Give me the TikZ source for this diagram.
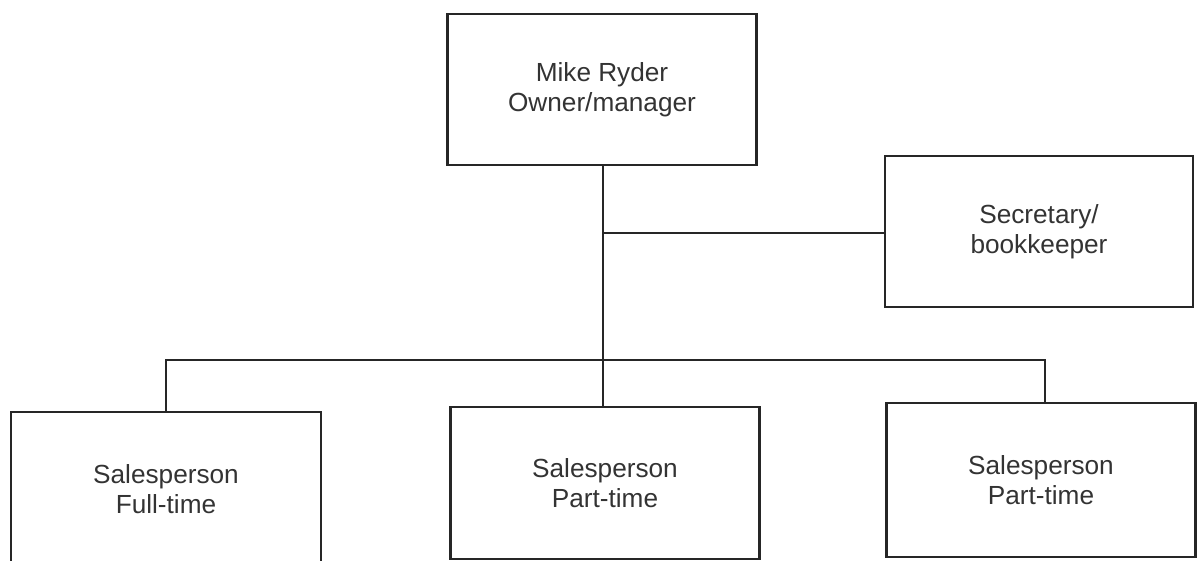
\documentclass[tikz,border=0pt]{standalone}
\usepackage{fontspec}
\setmainfont{Liberation Sans}
\begin{document}
\begin{tikzpicture}[x=1pt,y=-1pt,
  every node/.style={font=\fontsize{26.2}{30.5}\selectfont, text=black!80},
  role/.style={draw=black!85, line width=2.2pt, align=center, inner sep=0pt},
  link/.style={draw=black!85, line width=2.2pt}]
  \useasboundingbox (0,0) rectangle (1200,561);
  % the five position boxes
  \node[role, minimum width=309pt, minimum height=151pt] (own) at (602,89.5) {Mike Ryder\\Owner/manager};
  \node[role, minimum width=308pt, minimum height=151pt] (sec) at (1039,231.5) {Secretary/\\bookkeeper};
  \node[role, minimum width=310pt, minimum height=154pt] (ft) at (166,489) {Salesperson\\Full-time};
  \node[role, minimum width=309pt, minimum height=152pt] (pt1) at (605,483) {Salesperson\\Part-time};
  \node[role, minimum width=309pt, minimum height=154pt] (pt2) at (1041,480) {Salesperson\\Part-time};
  % trunk, staff branch and the bus feeding the sales staff
  \coordinate (trunk) at (603,0);
  \coordinate (branch) at (603,233);
  \coordinate (bus) at (603,360);
  % connectors
  \draw[link] (trunk |- own.south) -- (trunk |- pt1.north);
  \draw[link] (branch) -- (sec.west |- branch);
  \draw[link] (ft.north) -- (ft.north |- bus) -- ([xshift=4pt]pt2.north |- bus) -- ([xshift=4pt]pt2.north);
\end{tikzpicture}
\end{document}
